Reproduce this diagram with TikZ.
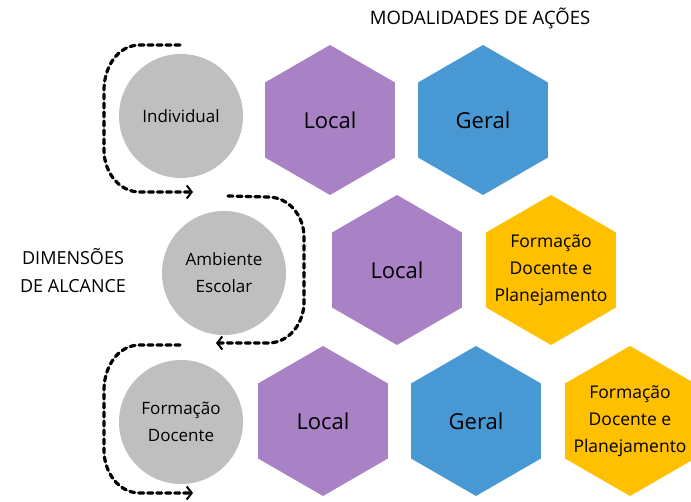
\documentclass[tikz,border=0pt]{standalone}
\usepackage{fontspec}
\setmainfont{Open Sans}
\usetikzlibrary{shapes.geometric,arrows.meta}

\definecolor{lilas}{RGB}{169,130,198}
\definecolor{azul}{RGB}{72,152,212}
\definecolor{ouro}{RGB}{255,192,0}
\definecolor{cinza}{RGB}{191,191,191}

\tikzset{
  hexa/.style={regular polygon, regular polygon sides=6, regular polygon rotate=30,
    inner sep=0pt, minimum size=150pt, font=\fontsize{22}{24}\selectfont, align=center},
  planej/.style={hexa, fill=ouro,
    label={[font=\fontsize{17.5}{27}\selectfont, align=center]center:Formação\\Docente e\\Planejamento}},
  dimensao/.style={circle, fill=cinza, inner sep=0pt, minimum size=124pt,
    font=\fontsize{17}{27}\selectfont, align=center},
  laco/.style={line width=3.2pt, dash pattern=on 5pt off 4pt, line cap=round,
    -{Straight Barb[length=5pt,width=13pt,line width=2pt]}}
}

\begin{document}
\begin{tikzpicture}[x=1pt,y=1pt]
\clip (0,0) rectangle (691,502);
\useasboundingbox (0,0) rectangle (691,502);

% Titles
\node (modal) at (480,484) {\fontsize{18.5}{20}\selectfont MODALIDADES DE AÇÕES};
\node[align=center,font=\fontsize{18}{28}\selectfont] (alcance) at (73,231) {DIMENSÕES\\DE ALCANCE};

% Dimensions
\node[dimensao] (ind) at (181,386) {Individual};
\node[dimensao] (amb) at (224,229) {Ambiente\\Escolar};
\node[dimensao] (form) at (181,80) {Formação\\Docente};

% Actions, row by row
\node[hexa,fill=lilas] (local1) at (330,382) {Local};
\node[hexa,fill=azul] (geral1) at (483,382) {Geral};

\node[hexa,fill=lilas] (local2) at (397,232) {Local};
\node[planej] (plan2) at (551,232) {};

\node[hexa,fill=lilas] (local3) at (323,81) {Local};
\node[hexa,fill=azul] (geral3) at (476,81) {Geral};
\node[planej] (plan3) at (630,81) {};

% Dashed loops
\coordinate (a1) at (180,457);
\coordinate (b1) at (193,310);
\coordinate (a2) at (228,306);
\coordinate (b2) at (216,159);
\coordinate (a3) at (180,157);
\coordinate (b3) at (193,9);
\draw[laco] (a1) -- ++(-40,0) to[out=180,in=90] (104,412) -- (104,352)
  to[out=-90,in=180] (140,310) -- (b1);
\draw[laco] (a2) -- ++(40,-1) to[out=0,in=90] (304,265) -- (304,200)
  to[out=-90,in=0] (268,159) -- (b2);
\draw[laco] (a3) -- ++(-40,0) to[out=180,in=90] (104,112) -- (104,52)
  to[out=-90,in=180] (140,9) -- (b3);
\end{tikzpicture}
\end{document}
